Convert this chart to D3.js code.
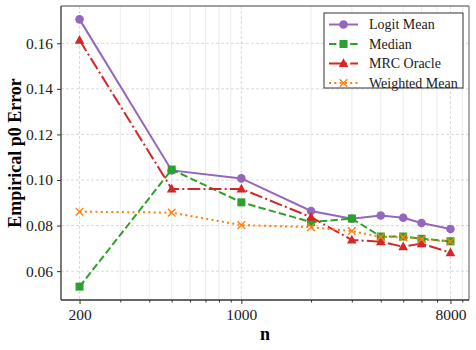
<!DOCTYPE html>
<html>
<head>
<meta charset="utf-8">
<script src="https://cdn.jsdelivr.net/npm/d3@7"></script>
<style>
  body { margin: 0; background: #fff; }
  text { font-family: "Liberation Serif", "DejaVu Serif", serif; }
</style>
</head>
<body>
<div id="chart"></div>
<script>
// Data
const nValues = [200, 500, 1000, 2000, 3000, 4000, 5000, 6000, 8000];
const logitMean    = [0.1705, 0.1042, 0.1007, 0.0864, 0.0830, 0.0844, 0.0834, 0.0811, 0.0785];
const median       = [0.0532, 0.1046, 0.0902, 0.0815, 0.0831, 0.0752, 0.0752, 0.0742, 0.0731];
const mrcOracle    = [0.1614, 0.0961, 0.0961, 0.0837, 0.0737, 0.0729, 0.0707, 0.0721, 0.0681];
const weightedMean = [0.0861, 0.0857, 0.0802, 0.0793, 0.0776, 0.0750, 0.0749, 0.0740, 0.0730];
const xTicks = [200, 1000, 8000];
const yTicks = [0.06, 0.08, 0.10, 0.12, 0.14, 0.16];

const series = [
  {name: "Logit Mean", values: logitMean, color: "#9467bd", dash: null, marker: "circle"},
  {name: "Median", values: median, color: "#2ca02c", dash: "7.4,3.2", marker: "square"},
  {name: "MRC Oracle", values: mrcOracle, color: "#d62728", dash: "12.8,3.2,2,3.2", marker: "triangle"},
  {name: "Weighted Mean", values: weightedMean, color: "#ff7f0e", dash: "2,3.3", marker: "x"}
];

const W = 476, H = 350;
const margin = {top: 6, right: 7, bottom: 50, left: 61};
const width = W - margin.left - margin.right;
const height = H - margin.top - margin.bottom;

const svg = d3.select("#chart").append("svg")
  .attr("width", W)
  .attr("height", H);

const g = svg.append("g")
  .attr("transform", `translate(${margin.left},${margin.top})`);

// log x with 5% padding in log space, linear y with 5% padding
const lx0 = Math.log10(d3.min(nValues)), lx1 = Math.log10(d3.max(nValues));
const padX = (lx1 - lx0) * 0.05;
const x = d3.scaleLog()
  .domain([Math.pow(10, lx0 - padX), Math.pow(10, lx1 + padX)])
  .range([0, width]);

const allY = series.flatMap(s => s.values);
const yMin = d3.min(allY), yMax = d3.max(allY);
const padY = (yMax - yMin) * 0.05;
const y = d3.scaleLinear()
  .domain([yMin - padY, yMax + padY])
  .range([height, 0]);

// minor log ticks (everything not in major list)
const minorTicks = x.ticks().filter(t => xTicks.indexOf(t) < 0);

// grid
g.append("g").selectAll("line")
  .data(minorTicks)
  .join("line")
  .attr("x1", d => x(d)).attr("x2", d => x(d))
  .attr("y1", 0).attr("y2", height)
  .attr("stroke", "#e6e6e6")
  .attr("stroke-width", 0.8);

g.append("g").selectAll("line")
  .data(xTicks)
  .join("line")
  .attr("x1", d => x(d)).attr("x2", d => x(d))
  .attr("y1", 0).attr("y2", height)
  .attr("stroke", "#cfcfcf")
  .attr("stroke-width", 0.8)
  .attr("stroke-dasharray", "3,2");

g.append("g").selectAll("line")
  .data(yTicks)
  .join("line")
  .attr("x1", 0).attr("x2", width)
  .attr("y1", d => y(d)).attr("y2", d => y(d))
  .attr("stroke", "#cfcfcf")
  .attr("stroke-width", 0.8)
  .attr("stroke-dasharray", "3,2");

// axes
const xAxis = g.append("g")
  .attr("transform", `translate(0,${height})`)
  .call(d3.axisBottom(x).tickValues(xTicks).tickFormat(d3.format("d")).tickSize(4).tickPadding(5));
xAxis.select(".domain").remove();
g.append("g")
  .attr("transform", `translate(0,${height})`)
  .call(d3.axisBottom(x).tickValues(minorTicks).tickFormat("").tickSize(2.5))
  .select(".domain").remove();

const yAxis = g.append("g")
  .call(d3.axisLeft(y).tickValues(yTicks).tickFormat(d3.format(".2f")).tickSize(4).tickPadding(4));
yAxis.select(".domain").remove();

svg.selectAll(".tick text")
  .style("font-size", "15.5px")
  .attr("fill", "#1a1a1a");
svg.selectAll(".tick line").attr("stroke", "#333");

// spines
g.append("line").attr("x1", 0).attr("x2", width).attr("y1", 0).attr("y2", 0)
  .attr("stroke", "#808080").attr("stroke-width", 1.3);
g.append("line").attr("x1", width).attr("x2", width).attr("y1", 0).attr("y2", height)
  .attr("stroke", "#808080").attr("stroke-width", 1.3);
g.append("line").attr("x1", 0).attr("x2", 0).attr("y1", 0).attr("y2", height)
  .attr("stroke", "#333").attr("stroke-width", 1.3);
g.append("line").attr("x1", 0).attr("x2", width).attr("y1", height).attr("y2", height)
  .attr("stroke", "#333").attr("stroke-width", 1.3);

// markers
function drawMarker(sel, type, color, cx, cy) {
  if (type === "circle") {
    sel.append("circle").attr("cx", cx).attr("cy", cy).attr("r", 4.3)
      .attr("fill", color);
  } else if (type === "square") {
    sel.append("rect").attr("x", cx - 4).attr("y", cy - 4)
      .attr("width", 8).attr("height", 8).attr("fill", color);
  } else if (type === "triangle") {
    sel.append("path")
      .attr("d", `M${cx},${cy - 5.2}L${cx + 4.8},${cy + 3.6}L${cx - 4.8},${cy + 3.6}Z`)
      .attr("fill", color);
  } else {
    const r = 3.8;
    sel.append("path")
      .attr("d", `M${cx - r},${cy - r}L${cx + r},${cy + r}M${cx - r},${cy + r}L${cx + r},${cy - r}`)
      .attr("stroke", color).attr("stroke-width", 1.4).attr("fill", "none");
  }
}

const line = d3.line().x(d => x(d[0])).y(d => y(d[1]));

series.forEach(s => {
  const pts = nValues.map((n, i) => [n, s.values[i]]);
  const sg = g.append("g");
  sg.append("path")
    .datum(pts)
    .attr("d", line)
    .attr("fill", "none")
    .attr("stroke", s.color)
    .attr("stroke-width", 2)
    .attr("stroke-dasharray", s.dash);
  pts.forEach(p => drawMarker(sg, s.marker, s.color, x(p[0]), y(p[1])));
});

// axis labels
svg.append("text")
  .attr("x", margin.left + width / 2)
  .attr("y", 340)
  .attr("text-anchor", "middle")
  .style("font-size", "18px")
  .style("font-weight", "bold")
  .text("n");

svg.append("text")
  .attr("transform", `translate(21,${margin.top + height / 2}) rotate(-90)`)
  .attr("text-anchor", "middle")
  .style("font-size", "18px")
  .style("font-weight", "bold")
  .text("Empirical p0 Error");

// legend
const legend = svg.append("g").attr("transform", "translate(324,13)");
legend.append("rect")
  .attr("width", 139).attr("height", 75)
  .attr("fill", "#fff")
  .attr("stroke", "#333")
  .attr("stroke-width", 1);

series.forEach((s, i) => {
  const ly = 11.5 + i * 19.5;
  legend.append("line")
    .attr("x1", 5).attr("x2", 34)
    .attr("y1", ly).attr("y2", ly)
    .attr("stroke", s.color)
    .attr("stroke-width", 2)
    .attr("stroke-dasharray", s.dash);
  drawMarker(legend, s.marker, s.color, 19.5, ly);
  legend.append("text")
    .attr("x", 45)
    .attr("y", ly)
    .attr("dy", "0.35em")
    .style("font-size", "14px")
    .attr("fill", "#1a1a1a")
    .text(s.name);
});
</script>
</body>
</html>
